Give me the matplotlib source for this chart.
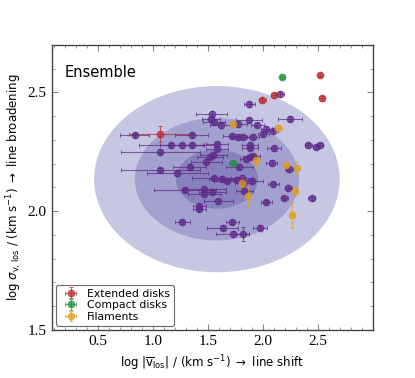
import numpy as np
import matplotlib
matplotlib.use('Agg')
import matplotlib.pyplot as plt
from matplotlib.patches import Ellipse

# 数据 (log |v_los|, log sigma, xerr, yerr)
purple_x = [2.153, 1.872, 1.534, 1.524, 1.554, 1.615, 1.872, 1.775, 1.947, 2.243,
            2.026, 2.001, 2.087, 0.832, 1.352, 1.715, 1.775, 1.815, 1.905, 1.165,
            1.267, 1.352, 1.579, 1.579, 1.881, 1.881, 2.098, 1.065, 2.409, 2.479,
            2.515, 1.548, 1.518, 1.482, 1.845, 1.881, 1.911, 1.331, 1.065, 1.222,
            1.784, 2.077, 2.234, 1.557, 1.624, 1.675, 1.760, 1.811, 1.896, 1.820,
            2.092, 2.228, 1.291, 1.464, 1.539, 1.464, 1.829, 1.594, 1.421, 1.421,
            2.026, 2.192, 2.440, 1.267, 1.720, 1.633, 1.724, 1.815, 1.971]
purple_y = [2.492, 2.450, 2.411, 2.387, 2.376, 2.362, 2.384, 2.366, 2.363, 2.390,
            2.348, 2.324, 2.338, 2.319, 2.319, 2.316, 2.314, 2.312, 2.314, 2.278,
            2.277, 2.280, 2.281, 2.263, 2.280, 2.268, 2.265, 2.250, 2.277, 2.270,
            2.278, 2.235, 2.228, 2.208, 2.222, 2.230, 2.232, 2.187, 2.174, 2.159,
            2.187, 2.204, 2.176, 2.139, 2.137, 2.127, 2.131, 2.141, 2.127, 2.117,
            2.113, 2.099, 2.089, 2.092, 2.083, 2.073, 2.087, 2.042, 2.021, 2.010,
            2.038, 2.056, 2.054, 1.955, 1.955, 1.930, 1.905, 1.903, 1.930]
purple_xerr = [0.04, 0.05, 0.14, 0.08, 0.10, 0.10, 0.12, 0.08, 0.06, 0.11,
               0.05, 0.05, 0.05, 0.13, 0.15, 0.08, 0.08, 0.06, 0.06, 0.29,
               0.20, 0.20, 0.10, 0.10, 0.07, 0.07, 0.06, 0.36, 0.03, 0.03,
               0.03, 0.12, 0.12, 0.14, 0.06, 0.06, 0.06, 0.15, 0.36, 0.28,
               0.12, 0.05, 0.04, 0.20, 0.12, 0.12, 0.10, 0.10, 0.10, 0.08,
               0.05, 0.03, 0.28, 0.20, 0.12, 0.15, 0.08, 0.13, 0.06, 0.06,
               0.05, 0.03, 0.03, 0.07, 0.06, 0.14, 0.15, 0.06, 0.06]
purple_yerr = [0.01] * 67 + [0.03, 0.01]

red_x = [2.515, 2.531, 1.992, 2.098, 1.065]
red_y = [2.574, 2.476, 2.468, 2.488, 2.324]
red_xerr = [0.02, 0.02, 0.03, 0.03, 0.28]
red_yerr = [0.01, 0.01, 0.01, 0.01, 0.034]

green_x = [2.174, 1.724]
green_y = [2.565, 2.204]
green_xerr = [0.02, 0.03]
green_yerr = [0.01, 0.01]

yellow_x = [1.727, 2.138, 1.935, 2.207, 2.304, 1.808, 1.866, 2.289, 2.264]
yellow_y = [2.366, 2.352, 2.214, 2.194, 2.183, 2.120, 2.063, 2.084, 1.983]
yellow_xerr = [0.03, 0.03, 0.02, 0.02, 0.02, 0.02, 0.02, 0.02, 0.02]
yellow_yerr = [0.01, 0.01, 0.03, 0.01, 0.03, 0.03, 0.04, 0.02, 0.055]

# 椭圆 (1, 2, 3 sigma)
ell_center = (1.58, 2.135)
ell_width = [2.23, 1.49, 0.746]
ell_height = [0.784, 0.516, 0.248]
ell_colors = ['#c5c7e3', '#a2a1cf', '#8781bd']

plt.rcParams['mathtext.fontset'] = 'dejavusans'

fig = plt.figure(figsize=(4.15, 3.78), dpi=100)
ax = fig.add_axes([0.1246, 0.127, 0.775, 0.754])

for w, h, c in zip(ell_width, ell_height, ell_colors):
    ax.add_patch(Ellipse(ell_center, w, h, facecolor=c, edgecolor='none', zorder=1))

def plot_group(x, y, xerr, yerr, color, label=None):
    ax.errorbar(x, y, xerr=xerr, yerr=yerr, fmt='o', color=color, ms=4.6,
                mec=color, mfc=color, alpha=0.7, elinewidth=0.8, capsize=1.5,
                capthick=0.7, zorder=3, label=label)

plot_group(purple_x, purple_y, purple_xerr, purple_yerr, '#5e2a88')
plot_group(red_x, red_y, red_xerr, red_yerr, '#b8282a', 'Extended disks')
plot_group(green_x, green_y, green_xerr, green_yerr, '#1f9140', 'Compact disks')
plot_group(yellow_x, yellow_y, yellow_xerr, yellow_yerr, '#dea020', 'Filaments')

ax.set_xlim(0.08, 3.0)
ax.set_ylim(1.5, 2.7)
ax.set_xticks([0.5, 1.0, 1.5, 2.0, 2.5])
ax.set_yticks([1.5, 2.0, 2.5])
ax.set_xticks(np.arange(0.1, 3.0, 0.1), minor=True)
ax.set_yticks(np.arange(1.5, 2.7, 0.1), minor=True)
ax.tick_params(which='both', direction='in', top=True, right=True, color='#888888')
ax.tick_params(which='major', length=4, width=0.8)
ax.tick_params(which='minor', length=2, width=0.6)
for lab in ax.get_xticklabels() + ax.get_yticklabels():
    lab.set_fontfamily('Liberation Serif')
    lab.set_fontsize(11)
for sp in ax.spines.values():
    sp.set_color('#444444')
    sp.set_linewidth(1.0)

ax.set_xlabel(r'log |$\overline{\rm v}_{\rm los}$| / (km s$^{-1}$) $\rightarrow$ line shift',
              fontsize=8.5, labelpad=4)
ax.set_ylabel(r'log $\sigma_{\rm v,\,los}$ / (km s$^{-1}$) $\rightarrow$ line broadening',
              fontsize=8.5, labelpad=3)

ax.text(0.04, 0.93, 'Ensemble', transform=ax.transAxes, fontsize=10.5, va='top')

leg = ax.legend(loc='lower left', fontsize=7.8, frameon=True, handletextpad=0.5,
                borderpad=0.35, labelspacing=0.15, fancybox=True,
                borderaxespad=0.4)
leg.get_frame().set_edgecolor('#444444')
leg.get_frame().set_linewidth(0.8)

fig.savefig('out.png', dpi=100)
